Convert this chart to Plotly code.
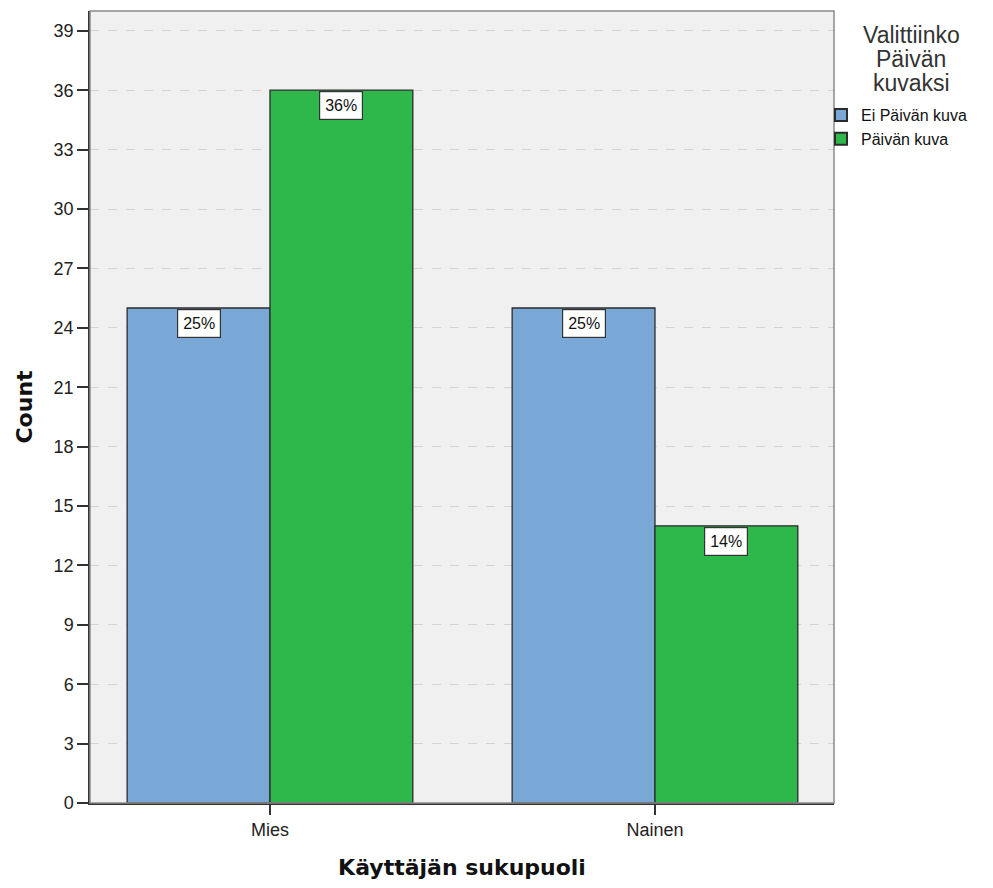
import plotly.graph_objects as go

categories = ["Mies", "Nainen"]
series_names = ["Ei Päivän kuva", "Päivän kuva"]
ei_values = [25, 25]
paivan_values = [36, 14]
ei_labels = ["25%", "25%"]
paivan_labels = ["36%", "14%"]
y_ticks = [0, 3, 6, 9, 12, 15, 18, 21, 24, 27, 30, 33, 36, 39]
legend_title_lines = ["Valittiinko", "Päivän", "kuvaksi"]

colors = ["#7AA8D6", "#2EB84B"]
FONT = "Arial, Liberation Sans, sans-serif"
TITLE_FONT = "DejaVu Sans, Verdana, sans-serif"

W, H = 985, 872
ML, MR, MT, MB = 82, 159, 3, 77

fig = go.Figure()
for name, vals, col in zip(series_names, [ei_values, paivan_values], colors):
    fig.add_trace(go.Bar(
        x=categories, y=vals, name=name,
        marker=dict(color=col, line=dict(color="#2b2b2b", width=1.3)),
    ))

bargap = 0.258
bar_w = (1 - bargap) / 2
offsets = [-bar_w / 2, bar_w / 2]
for off, vals, labs in zip(offsets, [ei_values, paivan_values], [ei_labels, paivan_labels]):
    for i, (v, lab) in enumerate(zip(vals, labs)):
        fig.add_annotation(
            x=i + off, y=v, xref="x", yref="y", text=lab, showarrow=False,
            yanchor="top", yshift=-1,
            font=dict(family=FONT, size=16, color="#111"),
            bgcolor="white", bordercolor="#333", borderwidth=1.2, borderpad=5,
        )

# legend title (centered, three lines)
pw = W - ML - MR
ph = H - MT - MB
title_cx = (911 - 8 - ML) / pw
for k, line in enumerate(legend_title_lines):
    cy = 35 + 24 * k - 8
    fig.add_annotation(
        x=title_cx, y=1 - (cy - MT) / ph, xref="paper", yref="paper",
        text=line, showarrow=False, xanchor="center", yanchor="middle",
        font=dict(family=FONT, size=23, color="#333"),
    )

fig.update_layout(
    width=W, height=H,
    margin=dict(l=ML, r=MR, t=MT, b=MB, autoexpand=False),
    paper_bgcolor="white", plot_bgcolor="#F0F0F0",
    barmode="group", bargap=bargap, bargroupgap=0,
    font=dict(family=FONT, size=18, color="#222"),
    legend=dict(
        x=(821 - 8 - ML) / pw, y=1 - (98 - 8 - MT) / ph, xanchor="left", yanchor="top",
        font=dict(size=16, color="#111"),
        itemsizing="constant", tracegroupgap=0,
        bgcolor="rgba(0,0,0,0)",
    ),
    xaxis=dict(
        type="category", range=[-0.4675, 1.465],
        showline=True, linecolor="#333", linewidth=1.5, mirror=False,
        ticks="outside", ticklen=10, tickcolor="#333", tickwidth=1.5,
        tickfont=dict(size=18, color="#222"),
        title=dict(text="<b>Käyttäjän sukupuoli</b>",
                   font=dict(family=TITLE_FONT, size=22, color="#111"), standoff=21),
        showgrid=False,
    ),
    yaxis=dict(
        range=[0, 40], tickvals=y_ticks,
        showline=True, linecolor="#333", linewidth=1.5,
        ticks="outside", ticklen=11, tickcolor="#333", tickwidth=1.5,
        tickfont=dict(size=18, color="#222"),
        title=dict(text="<b>Count</b>",
                   font=dict(family=TITLE_FONT, size=22, color="#111"), standoff=15),
        showgrid=True, gridcolor="#D4D4D4", griddash="dash", gridwidth=1,
        zeroline=False,
    ),
)
fig.add_shape(type="rect", xref="paper", yref="paper", x0=0, y0=0, x1=1, y1=1,
              line=dict(color="#8a8a8a", width=1.5), layer="above")

fig.write_html("out.html")
